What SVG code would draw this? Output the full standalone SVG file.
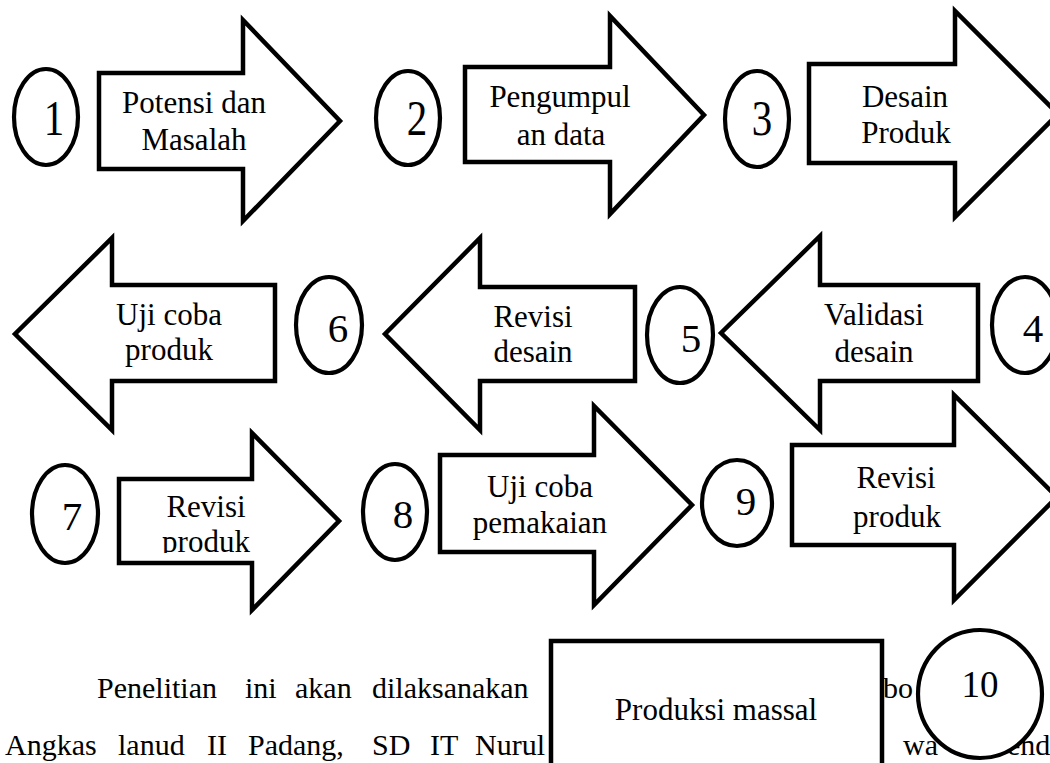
<svg xmlns="http://www.w3.org/2000/svg" width="1050" height="763" viewBox="0 0 1050 763">
<style>
.ar{fill:#fff;stroke:#000;stroke-width:4.5;stroke-linejoin:miter}
.el{fill:#fff;stroke:#000;stroke-width:4.2}
.bx{fill:#fff;stroke:#000;stroke-width:4.5}
.lb{font-family:"Liberation Serif","Times New Roman",serif;font-size:31px;text-anchor:middle;fill:#000}
.dg{font-family:"Liberation Serif","Times New Roman",serif;font-size:41px;text-anchor:middle;fill:#000}
.pt{font-family:"Liberation Serif","Times New Roman",serif;font-size:30px;fill:#000}
</style>
<defs>
<clipPath id="clip7"><rect x="110" y="470" width="160" height="83"/></clipPath>
</defs>
<rect width="1050" height="763" fill="#fff"/>
<g id="paragraph">
<text class="pt" y="698"><tspan x="97">Penelitian</tspan><tspan x="245">ini</tspan><tspan x="295">akan</tspan><tspan x="372">dilaksanakan</tspan><tspan x="883">bo</tspan></text>
<text class="pt" y="755"><tspan x="5">Angkas</tspan><tspan x="118">lanud</tspan><tspan x="207">II</tspan><tspan x="248">Padang,</tspan><tspan x="372">SD</tspan><tspan x="430">IT</tspan><tspan x="475">Nurul</tspan><tspan x="903">wa</tspan><tspan x="1007">end</tspan></text>
</g>
<g id="connectors"></g>
<g id="step1"><ellipse class="el" cx="46" cy="117" rx="32" ry="48"/><text class="dg" transform="translate(54 135) scale(1 1.22)">1</text></g>
<g id="arrow1"><path class="ar" d="M99,73 H243 V20 L340,121 L243,221 V169 H99 Z"/><text class="lb" x="194" y="113">Potensi dan</text><text class="lb" x="194" y="150">Masalah</text></g>
<g id="step2"><ellipse class="el" cx="408" cy="118" rx="32" ry="47"/><text class="dg" transform="translate(417 135) scale(1 1.22)">2</text></g>
<g id="arrow2"><path class="ar" d="M465,67 H610 V16 L704,115 L610,214 V162 H465 Z"/><text class="lb" x="560" y="107">Pengumpul</text><text class="lb" x="561" y="145">an data</text></g>
<g id="step3"><ellipse class="el" cx="757" cy="119" rx="32" ry="48"/><text class="dg" transform="translate(762 135) scale(1 1.22)">3</text></g>
<g id="arrow3"><path class="ar" d="M809,64 H955 V11 L1058,114 L955,217 V163 H809 Z"/><text class="lb" x="905" y="107">Desain</text><text class="lb" x="906" y="143">Produk</text></g>
<g id="step4"><ellipse class="el" cx="1025" cy="325" rx="33" ry="48"/><text class="dg" x="1033" y="342">4</text></g>
<g id="arrow4"><path class="ar" d="M978,285 H820 V236 L721,333 L820,430 V381 H978 Z"/><text class="lb" x="874" y="325">Validasi</text><text class="lb" x="874" y="362">desain</text></g>
<g id="step5"><ellipse class="el" cx="680" cy="335" rx="33" ry="48"/><text class="dg" x="691" y="352">5</text></g>
<g id="arrow5"><path class="ar" d="M635,287 H480 V238 L385,334 L480,430 V381 H635 Z"/><text class="lb" x="533" y="327">Revisi</text><text class="lb" x="533" y="362">desain</text></g>
<g id="step6"><ellipse class="el" cx="329" cy="325" rx="33" ry="48"/><text class="dg" x="338" y="342">6</text></g>
<g id="arrow6"><path class="ar" d="M275,285 H112 V238 L15,334 L112,430 V381 H275 Z"/><text class="lb" x="169" y="325">Uji coba</text><text class="lb" x="169" y="360">produk</text></g>
<g id="step7"><ellipse class="el" cx="65" cy="514" rx="33" ry="49"/><text class="dg" x="72" y="530">7</text></g>
<g id="arrow7"><path class="ar" d="M119,479 H252 V433 L339,521 L252,610 V563 H119 Z"/><text class="lb" x="206" y="517">Revisi</text><text class="lb" x="206" y="552" clip-path="url(#clip7)">produk</text></g>
<g id="step8"><ellipse class="el" cx="395" cy="512" rx="32" ry="48"/><text class="dg" x="403" y="528">8</text></g>
<g id="arrow8"><path class="ar" d="M440,455 H594 V406 L692,505 L594,605 V552 H440 Z"/><text class="lb" x="540" y="497">Uji coba</text><text class="lb" x="540" y="533">pemakaian</text></g>
<g id="step9"><ellipse class="el" cx="737" cy="503" rx="35" ry="43"/><text class="dg" x="746" y="515">9</text></g>
<g id="arrow9"><path class="ar" d="M792,445 H954 V395 L1057,497 L954,600 V545 H792 Z"/><text class="lb" x="896" y="488">Revisi</text><text class="lb" x="897" y="527">produk</text></g>
<g id="step10"><rect class="bx" x="551" y="641" width="331" height="140"/><text class="lb" x="716" y="720">Produksi massal</text></g>
<g id="step10num"><ellipse class="el" cx="980" cy="694" rx="62" ry="64"/><text class="dg" x="980" y="697" style="font-size:37px">10</text></g>
</svg>
